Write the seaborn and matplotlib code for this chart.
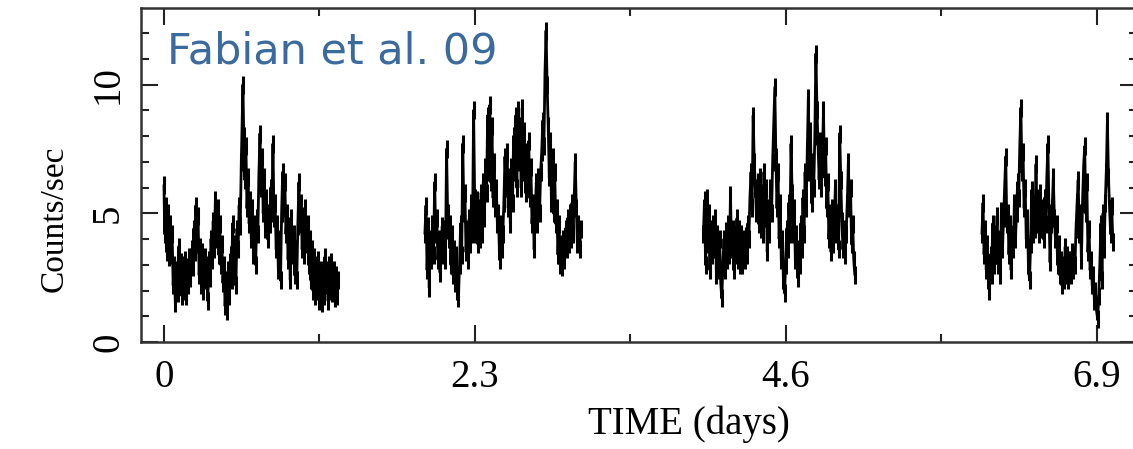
import numpy as np
import pandas as pd
import matplotlib
matplotlib.use("Agg")
import matplotlib.pyplot as plt
import seaborn as sns
from matplotlib.ticker import MultipleLocator, FixedLocator

# ---- data ----
seg1_t = [0.000, 0.005, 0.012, 0.020, 0.028, 0.036, 0.044, 0.052, 0.060, 0.068, 0.076, 0.084, 0.092, 0.100,
          0.108, 0.116, 0.124, 0.132, 0.140, 0.148, 0.156, 0.164, 0.172, 0.180, 0.188, 0.196, 0.204, 0.212,
          0.220, 0.228, 0.236, 0.244, 0.252, 0.260, 0.268, 0.276, 0.284, 0.292, 0.300, 0.308, 0.316, 0.324,
          0.332, 0.340, 0.348, 0.356, 0.364, 0.372, 0.380, 0.388, 0.396, 0.404, 0.412, 0.420, 0.428, 0.436,
          0.444, 0.452, 0.460, 0.468, 0.476, 0.484, 0.492, 0.500, 0.508, 0.516, 0.524, 0.532, 0.540, 0.548,
          0.556, 0.564, 0.572, 0.580, 0.584, 0.590, 0.598, 0.606, 0.614, 0.622, 0.630, 0.638, 0.646, 0.654,
          0.662, 0.670, 0.678, 0.686, 0.694, 0.702, 0.710, 0.718, 0.726, 0.734, 0.742, 0.750, 0.758, 0.766,
          0.774, 0.782, 0.790, 0.798, 0.806, 0.814, 0.822, 0.830, 0.838, 0.846, 0.854, 0.862, 0.870, 0.878,
          0.886, 0.894, 0.902, 0.910, 0.918, 0.926, 0.934, 0.942, 0.950, 0.958, 0.966, 0.974, 0.982, 0.990,
          0.998, 1.006, 1.014, 1.022, 1.030, 1.038, 1.046, 1.054, 1.062, 1.070, 1.078, 1.086, 1.094, 1.102,
          1.110, 1.118, 1.126, 1.134, 1.142, 1.150, 1.158, 1.166, 1.174, 1.182, 1.190, 1.198, 1.206, 1.214,
          1.222, 1.230, 1.238, 1.246, 1.254, 1.262, 1.270, 1.278, 1.286]
seg1_r = [6.1, 4.2, 5.3, 3.5, 5.0, 3.3, 4.6, 3.4, 4.2, 2.2, 3.0, 1.5, 2.8, 1.9,
          3.7, 2.2, 3.1, 1.8, 3.0, 2.0, 3.2, 1.8, 2.9, 2.2, 3.3, 2.5, 3.6, 2.9,
          4.4, 3.5, 5.3, 3.8, 4.9, 2.6, 3.7, 2.2, 3.5, 2.0, 3.3, 2.4, 3.0, 1.6,
          3.2, 2.5, 4.0, 3.2, 4.7, 3.6, 5.5, 4.0, 5.2, 3.4, 4.6, 3.0, 3.8, 2.3,
          3.0, 1.4, 2.4, 1.2, 2.8, 1.8, 3.4, 2.4, 4.6, 2.6, 3.8, 2.2, 4.4, 3.6,
          5.3, 4.5, 7.0, 9.0, 10.0, 8.0, 6.3, 7.6, 5.2, 6.4, 4.6, 5.5, 4.0, 5.2,
          3.4, 4.6, 3.0, 4.8, 4.2, 6.5, 8.1, 6.0, 7.2, 5.0, 6.4, 4.4, 5.6, 4.0,
          5.0, 4.6, 6.0, 5.0, 7.7, 4.8, 5.4, 3.6, 4.6, 2.8, 4.0, 2.4, 5.0, 6.6,
          5.2, 6.2, 4.2, 5.0, 3.2, 4.5, 2.4, 4.8, 3.4, 4.2, 2.6, 3.6, 2.4, 4.5,
          6.2, 4.6, 5.4, 3.6, 4.9, 3.4, 5.2, 3.8, 4.6, 3.0, 4.0, 2.4, 3.6, 2.0,
          3.3, 1.8, 3.0, 2.0, 3.2, 1.6, 2.8, 1.5, 2.6, 1.8, 3.3, 2.2, 2.8, 1.6,
          3.0, 2.0, 3.1, 1.9, 2.8, 1.7, 2.6, 1.8, 2.4]

seg2_t = [1.930, 1.938, 1.946, 1.954, 1.962, 1.970, 1.978, 1.986, 1.994, 2.002, 2.010, 2.018, 2.026, 2.034,
          2.042, 2.050, 2.058, 2.066, 2.074, 2.082, 2.090, 2.098, 2.106, 2.114, 2.122, 2.130, 2.138, 2.146,
          2.154, 2.162, 2.170, 2.178, 2.186, 2.194, 2.202, 2.210, 2.218, 2.226, 2.234, 2.242, 2.250, 2.258,
          2.266, 2.274, 2.282, 2.290, 2.298, 2.306, 2.314, 2.322, 2.330, 2.338, 2.346, 2.354, 2.362, 2.370,
          2.378, 2.386, 2.394, 2.402, 2.410, 2.418, 2.426, 2.434, 2.442, 2.450, 2.458, 2.466, 2.474, 2.482,
          2.490, 2.498, 2.506, 2.514, 2.522, 2.530, 2.538, 2.546, 2.554, 2.562, 2.570, 2.578, 2.586, 2.594,
          2.602, 2.610, 2.618, 2.626, 2.634, 2.642, 2.650, 2.658, 2.666, 2.674, 2.682, 2.690, 2.698, 2.706,
          2.714, 2.722, 2.730, 2.738, 2.746, 2.754, 2.762, 2.770, 2.778, 2.786, 2.794, 2.802, 2.810, 2.818,
          2.826, 2.834, 2.842, 2.850, 2.858, 2.866, 2.874, 2.882, 2.890, 2.898, 2.906, 2.914, 2.922, 2.930,
          2.938, 2.946, 2.954, 2.962, 2.970, 2.978, 2.986, 2.994, 3.002, 3.010, 3.018, 3.026, 3.034, 3.042,
          3.050, 3.058, 3.066, 3.074, 3.082]
seg2_r = [4.2, 5.3, 2.8, 4.5, 2.1, 4.0, 3.2, 4.6, 3.4, 6.2, 4.2, 4.8, 3.2, 4.0,
          2.7, 3.6, 4.5, 3.4, 4.4, 3.2, 7.5, 5.0, 4.0, 4.6, 3.0, 4.2, 2.6, 3.6,
          2.3, 3.4, 2.0, 1.7, 3.0, 4.6, 3.4, 7.7, 5.0, 5.8, 3.5, 4.4, 3.2, 4.8,
          3.8, 5.4, 4.2, 9.0, 5.6, 4.2, 5.5, 3.8, 5.2, 4.0, 5.8, 4.2, 6.2, 4.8,
          6.8, 5.8, 8.8, 6.6, 9.2, 6.2, 8.4, 5.6, 7.0, 5.2, 6.0, 4.6, 5.0, 3.2,
          4.6, 3.6, 4.2, 5.4, 7.2, 6.0, 7.4, 5.2, 6.4, 4.6, 6.8, 5.4, 8.0, 6.6,
          8.8, 6.0, 9.0, 7.0, 8.4, 6.0, 9.1, 6.6, 8.2, 5.8, 7.4, 6.4, 7.8, 5.6,
          6.8, 4.6, 5.4, 3.6, 5.0, 6.2, 4.6, 6.4, 5.0, 6.6, 7.4, 8.6, 7.6, 10.4,
          12.1, 10.0, 8.4, 6.4, 7.8, 5.4, 7.2, 5.0, 6.6, 4.6, 5.2, 3.4, 4.6, 3.0,
          3.8, 2.9, 4.0, 3.2, 4.4, 3.6, 4.8, 3.8, 5.0, 4.0, 5.4, 4.2, 5.6, 7.0,
          5.2, 3.8, 4.6, 3.6, 4.4]

seg3_t = [3.990, 3.998, 4.006, 4.014, 4.022, 4.030, 4.038, 4.046, 4.054, 4.062, 4.070, 4.078, 4.086, 4.094,
          4.102, 4.110, 4.118, 4.126, 4.134, 4.142, 4.150, 4.158, 4.166, 4.174, 4.182, 4.190, 4.198, 4.206,
          4.214, 4.222, 4.230, 4.238, 4.246, 4.254, 4.262, 4.270, 4.278, 4.286, 4.294, 4.302, 4.310, 4.318,
          4.326, 4.334, 4.342, 4.350, 4.358, 4.366, 4.374, 4.382, 4.390, 4.398, 4.406, 4.414, 4.422, 4.430,
          4.438, 4.446, 4.454, 4.462, 4.470, 4.478, 4.486, 4.494, 4.502, 4.510, 4.518, 4.526, 4.534, 4.542,
          4.550, 4.558, 4.566, 4.574, 4.582, 4.590, 4.598, 4.606, 4.614, 4.622, 4.630, 4.638, 4.646, 4.654,
          4.662, 4.670, 4.678, 4.686, 4.694, 4.702, 4.710, 4.718, 4.726, 4.734, 4.742, 4.750, 4.758, 4.766,
          4.774, 4.782, 4.790, 4.798, 4.806, 4.814, 4.822, 4.830, 4.838, 4.846, 4.854, 4.862, 4.870, 4.878,
          4.886, 4.894, 4.902, 4.910, 4.918, 4.926, 4.934, 4.942, 4.950, 4.958, 4.966, 4.974, 4.982, 4.990,
          4.998, 5.006, 5.014, 5.022, 5.030, 5.038, 5.046, 5.054, 5.062, 5.070, 5.078, 5.086, 5.094, 5.102,
          5.110]
seg3_r = [4.2, 5.5, 3.0, 5.6, 3.8, 5.0, 2.8, 4.4, 3.4, 4.6, 3.6, 4.8, 2.6, 4.2,
          2.8, 4.0, 2.3, 1.7, 3.0, 4.0, 2.8, 4.3, 3.2, 4.6, 3.4, 5.7, 3.6, 4.4,
          2.8, 4.2, 3.4, 4.8, 3.2, 4.4, 3.0, 4.2, 3.0, 4.0, 3.2, 4.1, 3.4, 4.6,
          4.0, 5.6, 6.6, 5.2, 8.8, 7.0, 6.0, 5.0, 6.2, 4.6, 6.4, 4.4, 5.8, 4.2,
          6.6, 4.8, 6.0, 3.5, 5.2, 4.2, 6.0, 5.0, 7.0, 8.5, 9.9, 7.2, 5.2, 6.6,
          4.0, 5.4, 3.2, 4.0, 2.4, 1.9, 3.0, 4.4, 3.6, 5.4, 4.2, 7.7, 5.8, 4.2,
          5.2, 3.2, 4.2, 2.5, 3.6, 3.0, 4.6, 3.6, 5.6, 4.2, 6.6, 5.2, 7.4, 9.5,
          6.6, 8.2, 5.4, 7.0, 6.0, 8.0, 11.2, 9.0, 7.6, 6.3, 7.8, 6.0, 7.2, 9.0,
          6.4, 7.6, 5.2, 6.2, 4.0, 5.0, 3.5, 5.2, 3.8, 4.8, 6.0, 4.2, 5.0, 3.6,
          8.1, 6.3, 4.7, 3.6, 4.4, 3.4, 4.2, 5.4, 7.0, 5.2, 6.0, 3.8, 4.6, 3.2,
          2.6]

seg4_t = [6.050, 6.058, 6.066, 6.074, 6.082, 6.090, 6.098, 6.106, 6.114, 6.122, 6.130, 6.138, 6.146, 6.154,
          6.162, 6.170, 6.178, 6.186, 6.194, 6.202, 6.210, 6.218, 6.226, 6.234, 6.242, 6.250, 6.258, 6.266,
          6.274, 6.282, 6.290, 6.298, 6.306, 6.314, 6.322, 6.330, 6.338, 6.346, 6.354, 6.362, 6.370, 6.378,
          6.386, 6.394, 6.402, 6.410, 6.418, 6.426, 6.434, 6.442, 6.450, 6.458, 6.466, 6.474, 6.482, 6.490,
          6.498, 6.506, 6.514, 6.522, 6.530, 6.538, 6.546, 6.554, 6.562, 6.570, 6.578, 6.586, 6.594, 6.602,
          6.610, 6.618, 6.626, 6.634, 6.642, 6.650, 6.658, 6.666, 6.674, 6.682, 6.690, 6.698, 6.706, 6.714,
          6.722, 6.730, 6.738, 6.746, 6.754, 6.762, 6.770, 6.778, 6.786, 6.794, 6.802, 6.810, 6.818, 6.826,
          6.834, 6.842, 6.850, 6.858, 6.866, 6.874, 6.882, 6.890, 6.898, 6.906, 6.914, 6.922, 6.930, 6.938,
          6.946, 6.954, 6.962, 6.970, 6.978, 6.986, 6.994, 7.002, 7.010, 7.018]
seg4_r = [4.2, 5.4, 3.4, 4.4, 2.8, 3.8, 2.4, 2.0, 3.4, 2.6, 4.6, 3.0, 4.2, 3.4,
          4.9, 3.0, 4.0, 2.6, 5.1, 3.6, 4.8, 6.0, 7.2, 4.6, 5.0, 3.4, 4.6, 2.8,
          4.2, 3.6, 5.4, 4.0, 5.0, 6.2, 5.6, 7.6, 9.1, 6.6, 7.4, 5.2, 6.0, 4.0,
          4.8, 3.0, 2.4, 3.8, 5.9, 4.2, 5.4, 4.4, 6.9, 4.6, 5.6, 4.2, 5.8, 4.4,
          5.2, 4.0, 5.6, 4.6, 6.4, 7.7, 5.0, 3.1, 4.6, 5.2, 6.4, 4.8, 4.0, 4.6,
          3.0, 3.8, 2.6, 3.2, 2.2, 3.0, 2.4, 3.7, 2.6, 3.4, 2.4, 3.2, 2.6, 3.5,
          2.8, 3.4, 3.0, 4.4, 5.4, 6.3, 4.2, 5.0, 3.2, 5.4, 6.8, 7.6, 5.0, 6.2,
          3.5, 4.4, 2.8, 3.2, 2.2, 2.6, 1.6, 2.0, 1.2, 0.9, 1.8, 3.0, 4.6, 2.4,
          5.0, 3.6, 5.4, 6.6, 8.6, 6.4, 5.2, 4.2, 5.3, 3.9]

rate_err = 0.35  # typical 1-sigma error bar (counts/sec)

x_major_ticks = [0, 2.3, 4.6, 6.9]
x_major_labels = ["0", "2.3", "4.6", "6.9"]
x_minor_ticks = [1.15, 3.45, 5.75]
y_major_ticks = [0, 5, 10]
y_major_labels = ["0", "5", "10"]

frames = []
for i, (t, r) in enumerate([(seg1_t, seg1_r), (seg2_t, seg2_r), (seg3_t, seg3_r), (seg4_t, seg4_r)]):
    frames.append(pd.DataFrame({"time": t, "rate": r, "seg": i}))
df = pd.concat(frames, ignore_index=True)

# ---- figure ----
sns.set_style("ticks")
plt.rcParams["font.family"] = ["Liberation Serif", "DejaVu Serif"]
plt.rcParams["text.color"] = "black"
plt.rcParams["axes.labelcolor"] = "black"
plt.rcParams["xtick.labelcolor"] = "black"
plt.rcParams["ytick.labelcolor"] = "black"

fig = plt.figure(figsize=(11.33, 4.49), dpi=100)
ax = fig.add_axes([141 / 1133, (449 - 342) / 449, (1137 - 141) / 1133, (342 - 8) / 449])

sns.lineplot(data=df, x="time", y="rate", units="seg", estimator=None,
             color="black", linewidth=2.0, ax=ax, legend=False)
ax.errorbar(df["time"], df["rate"], yerr=rate_err, fmt="none",
            ecolor="black", elinewidth=2.2, capsize=0)

ax.set_xlim(-0.170, 7.197)
ax.set_ylim(0, 12.98)

ax.xaxis.set_major_locator(FixedLocator(x_major_ticks))
ax.set_xticklabels(x_major_labels)
ax.xaxis.set_minor_locator(FixedLocator(x_minor_ticks))
ax.yaxis.set_major_locator(FixedLocator(y_major_ticks))
ax.set_yticklabels(y_major_labels, rotation=90, va="center")
ax.yaxis.set_minor_locator(MultipleLocator(1))

ax.tick_params(which="both", direction="in", top=True, right=True,
               width=1.5, color="#222222", labelsize=28)
ax.tick_params(which="major", length=12)
ax.tick_params(which="minor", length=6)
ax.tick_params(axis="x", which="major", pad=12)
ax.tick_params(axis="y", which="major", pad=10)

for sp in ax.spines.values():
    sp.set_linewidth(1.8)
    sp.set_color("#333333")

ax.set_xlabel("TIME (days)", fontsize=28)
ax.xaxis.set_label_coords(0.55, -0.19)
ax.set_ylabel("Counts/sec", fontsize=24)
ax.yaxis.set_label_coords(-0.072, 0.37)

ax.text(0.026, 0.835, "Fabian et al. 09", transform=ax.transAxes,
        fontsize=31, color="#3a6a9e", family=["DejaVu Sans"], va="baseline", ha="left")

fig.savefig("out.png", dpi=100)
